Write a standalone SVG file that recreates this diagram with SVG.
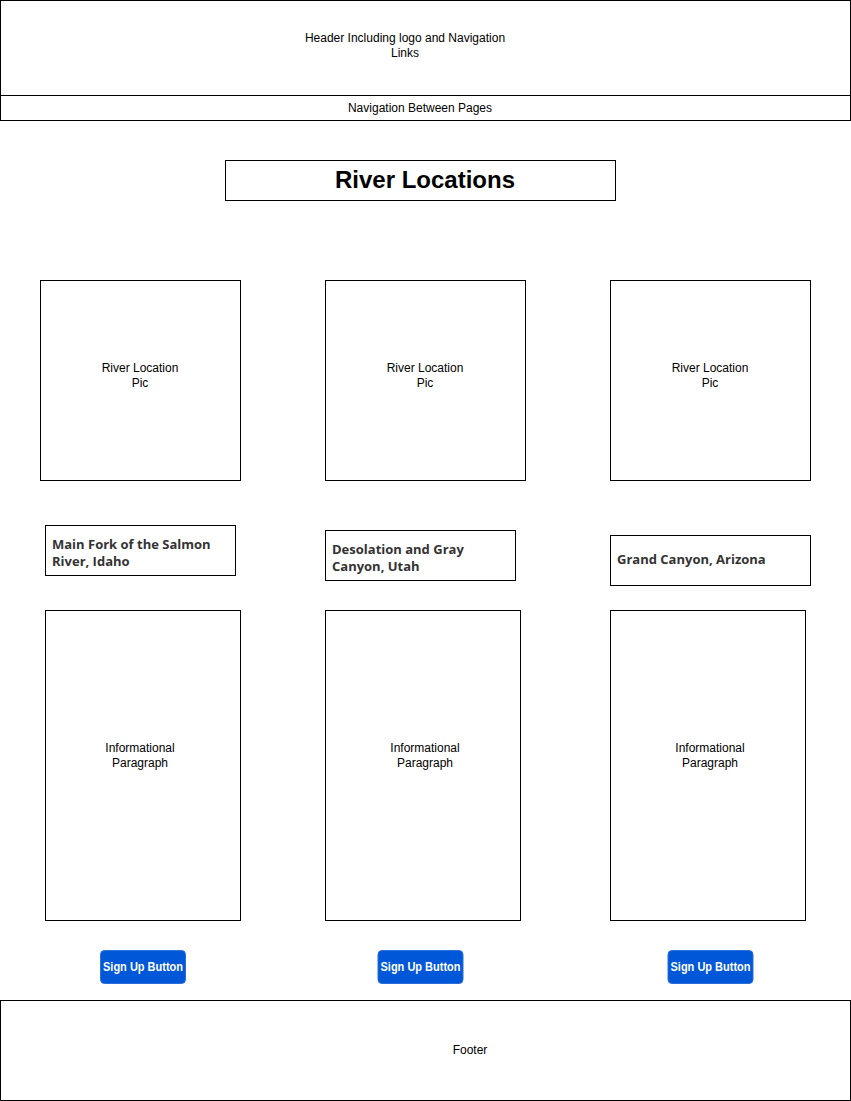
<svg xmlns="http://www.w3.org/2000/svg" width="851" height="1101" viewBox="0 0 851 1101">
<style>
.box{fill:#fff;stroke:#000;stroke-width:1}
.t{font-family:"Liberation Sans",Arial,sans-serif;font-size:12px;fill:#000;text-anchor:middle}
.loc{font-family:"Open Sans","DejaVu Sans",sans-serif;font-size:13px;font-weight:700;fill:#333}
.btn{fill:#0057d8;stroke:#2b6fd8;stroke-width:1}
.bt{font-family:"Liberation Sans",Arial,sans-serif;font-size:12px;font-weight:700;fill:#fff;text-anchor:middle}
</style>
<rect width="851" height="1101" fill="#fff"/>
<g id="header"><rect class="box" x="0.5" y="0.5" width="850" height="95"/><text class="t" x="405" y="42">Header Including logo and Navigation</text><text class="t" x="405" y="57">Links</text></g>
<g id="nav"><rect class="box" x="0.5" y="95.5" width="850" height="25"/><text class="t" x="420" y="112">Navigation Between Pages</text></g>
<g id="title"><rect class="box" x="225.5" y="160.5" width="390" height="40"/><text x="425" y="188" style="font-family:'Liberation Sans',Arial,sans-serif;font-size:24px;font-weight:700;text-anchor:middle">River Locations</text></g>
<g id="pic1"><rect class="box" x="40.5" y="280.5" width="200" height="200"/><text class="t" x="140" y="372">River Location</text><text class="t" x="140" y="387">Pic</text></g>
<g id="pic2"><rect class="box" x="325.5" y="280.5" width="200" height="200"/><text class="t" x="425" y="372">River Location</text><text class="t" x="425" y="387">Pic</text></g>
<g id="pic3"><rect class="box" x="610.5" y="280.5" width="200" height="200"/><text class="t" x="710" y="372">River Location</text><text class="t" x="710" y="387">Pic</text></g>
<g id="loc1"><rect class="box" x="45.5" y="525.5" width="190" height="50"/><text class="loc" x="52" y="549">Main Fork of the Salmon</text><text class="loc" x="52" y="566">River, Idaho</text></g>
<g id="loc2"><rect class="box" x="325.5" y="530.5" width="190" height="50"/><text class="loc" x="332" y="554">Desolation and Gray</text><text class="loc" x="332" y="571">Canyon, Utah</text></g>
<g id="loc3"><rect class="box" x="610.5" y="535.5" width="200" height="50"/><text class="loc" x="617" y="564">Grand Canyon, Arizona</text></g>
<g id="info1"><rect class="box" x="45.5" y="610.5" width="195" height="310"/><text class="t" x="140" y="752">Informational</text><text class="t" x="140" y="767">Paragraph</text></g>
<g id="info2"><rect class="box" x="325.5" y="610.5" width="195" height="310"/><text class="t" x="425" y="752">Informational</text><text class="t" x="425" y="767">Paragraph</text></g>
<g id="info3"><rect class="box" x="610.5" y="610.5" width="195" height="310"/><text class="t" x="710" y="752">Informational</text><text class="t" x="710" y="767">Paragraph</text></g>
<g id="btn1"><rect class="btn" x="100.5" y="950.5" width="85" height="33" rx="4"/><text class="bt" x="143" y="971" textLength="80" lengthAdjust="spacingAndGlyphs">Sign Up Button</text></g>
<g id="btn2"><rect class="btn" x="378" y="950.5" width="85" height="33" rx="4"/><text class="bt" x="420.5" y="971" textLength="80" lengthAdjust="spacingAndGlyphs">Sign Up Button</text></g>
<g id="btn3"><rect class="btn" x="668" y="950.5" width="85" height="33" rx="4"/><text class="bt" x="710.5" y="971" textLength="80" lengthAdjust="spacingAndGlyphs">Sign Up Button</text></g>
<g id="footer"><rect class="box" x="0.5" y="1000.5" width="850" height="100"/><text class="t" x="470" y="1054">Footer</text></g>
<g id="connectors"></g>
</svg>
